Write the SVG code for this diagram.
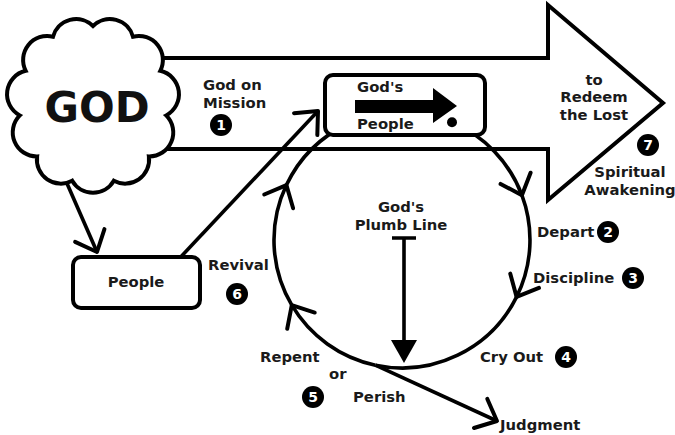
<svg xmlns="http://www.w3.org/2000/svg" width="675" height="435" viewBox="0 0 675 435">
<style>
.ln{fill:none;stroke:#000;stroke-width:3.6}
.box{fill:#fff;stroke:#000;stroke-width:4}
.t{font-family:"DejaVu Sans",Verdana,sans-serif;font-weight:bold;font-size:14.8px;fill:#1a1a1a}
.c{text-anchor:middle}
.nb{fill:#000}
.nt{font-family:"DejaVu Sans",Verdana,sans-serif;font-weight:bold;font-size:14px;fill:#fff;text-anchor:middle}
</style>
<defs>
<marker id="v" markerUnits="userSpaceOnUse" markerWidth="50" markerHeight="50" refX="25" refY="25" orient="auto">
<path d="M7,9 L25,25 L7,41" fill="none" stroke="#000" stroke-width="4" stroke-linejoin="round" stroke-linecap="round"/>
</marker>
</defs>
<rect width="675" height="435" fill="#fff"/>

<g id="mission-arrow">
<polygon points="140,58 548,58 548,5 663,103 548,200 548,149 140,149" fill="#fff" stroke="#000" stroke-width="4" stroke-linejoin="miter"/>
<text class="t" x="203" y="90">God on</text>
<text class="t" x="203" y="108">Mission</text>
<circle class="nb" cx="221" cy="125" r="11"/><text class="nt" x="221" y="130">1</text>
<text class="t c" x="594" y="85">to</text>
<text class="t c" x="594" y="102">Redeem</text>
<text class="t c" x="594" y="120">the Lost</text>
<circle class="nb" cx="648" cy="145" r="11"/><text class="nt" x="648" y="150">7</text>
<text class="t c" x="630" y="177">Spiritual</text>
<text class="t c" x="630" y="195">Awakening</text>
</g>

<g id="connectors">
<path class="ln" d="M62,172 L97,252" marker-end="url(#v)"/>
<path class="ln" d="M176,262 L318,111" marker-end="url(#v)"/>
<path class="ln" d="M452,122.2 A128,128 0 0 1 521.9,195.2" marker-end="url(#v)"/>
<path class="ln" d="M521.9,195.2 A128,128 0 0 1 516.6,296.9" marker-end="url(#v)"/>
<path class="ln" d="M516.6,296.9 A128,128 0 0 1 375.4,365.2"/>
<path class="ln" d="M375.4,365.2 A128,128 0 0 1 291.8,305.2" marker-end="url(#v)"/>
<path class="ln" d="M291.8,305.2 A128,128 0 0 1 286.4,185.1" marker-end="url(#v)"/>
<path class="ln" d="M286.4,185.1 A128,128 0 0 1 347.9,124"/>
<path class="ln" d="M375.4,365.2 L497,421" marker-end="url(#v)"/>
</g>

<g id="god">
<path d="M93,26 A24,24 0 0 1 133,36.7 A24,24 0 0 1 160.3,70.8 A24,24 0 0 1 166.2,115.4 A24,24 0 0 1 148.9,156.4 A24,24 0 0 1 113.8,180.8 A24,24 0 0 1 72.2,180.8 A24,24 0 0 1 37.1,156.4 A24,24 0 0 1 19.8,115.4 A24,24 0 0 1 25.7,70.8 A24,24 0 0 1 53,36.7 A24,24 0 0 1 93,26 Z" fill="#fff" stroke="#000" stroke-width="4"/>
<text x="97" y="122" text-anchor="middle" style="font-family:'DejaVu Sans',Verdana,sans-serif;font-weight:bold;font-size:42px" fill="#111">GOD</text>
</g>

<g id="people">
<rect class="box" x="73" y="257" width="127" height="51" rx="8"/>
<text class="t c" x="136" y="287">People</text>
</g>

<g id="gods-people">
<rect class="box" x="325" y="75" width="160" height="60" rx="8"/>
<text class="t" x="357" y="92">God's</text>
<text class="t" x="357" y="129">People</text>
<polygon points="355,100 433,100 433,88 457,106 433,123 433,113 355,113" fill="#000"/>
<circle cx="452" cy="122.2" r="5" fill="#000"/>
</g>

<g id="plumb-line">
<text class="t c" x="401" y="212">God's</text>
<text class="t c" x="401" y="230">Plumb Line</text>
<path class="ln" d="M392,238 L416,238 M404,238 L404,342"/>
<polygon points="391,340 417,340 404,363" fill="#000"/>
</g>

<g id="labels">
<text class="t" x="537" y="237">Depart</text>
<circle class="nb" cx="608" cy="232" r="11"/><text class="nt" x="608" y="237">2</text>
<text class="t" x="533" y="283">Discipline</text>
<circle class="nb" cx="633" cy="278" r="11"/><text class="nt" x="633" y="283">3</text>
<text class="t" x="480" y="362">Cry Out</text>
<circle class="nb" cx="566" cy="357" r="11"/><text class="nt" x="566" y="362">4</text>
<text class="t" x="260" y="362">Repent</text>
<text class="t" x="329" y="379">or</text>
<text class="t" x="353" y="402">Perish</text>
<circle class="nb" cx="313" cy="397" r="11"/><text class="nt" x="313" y="402">5</text>
<text class="t" x="208" y="270">Revival</text>
<circle class="nb" cx="237" cy="294" r="11"/><text class="nt" x="237" y="299">6</text>
<text class="t" x="500" y="430">Judgment</text>
</g>
</svg>
